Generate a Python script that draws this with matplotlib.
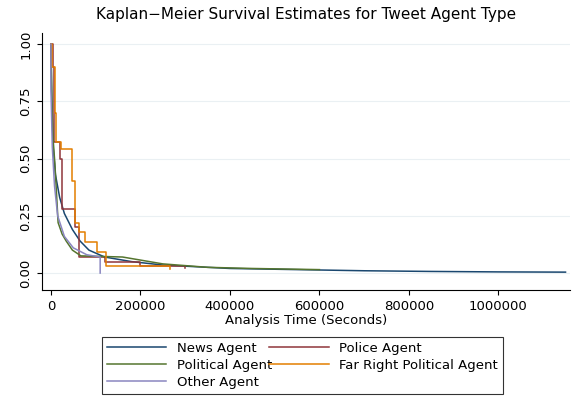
import matplotlib
matplotlib.use("Agg")
import matplotlib.pyplot as plt

news_t = [0, 2000, 5000, 10000, 19500, 30000, 48000, 65000, 85000, 120000, 180000, 250000, 400000, 550000, 700000, 850000, 1000000, 1150000]
news_s = [1.0, 0.75, 0.55, 0.43, 0.33, 0.26, 0.19, 0.14, 0.10, 0.07, 0.05, 0.035, 0.02, 0.015, 0.01, 0.007, 0.005, 0.004]
police_t = [0, 4000, 7000, 21000, 25000, 54000, 63000, 120000, 200000, 300000]
police_s = [1.0, 0.9, 0.57, 0.5, 0.28, 0.2, 0.07, 0.05, 0.03, 0.02]
pol_t = [0, 2000, 5000, 8700, 16000, 25000, 34000, 48000, 67000, 160000, 250000, 350000, 450000, 600000]
pol_s = [1.0, 0.75, 0.58, 0.48, 0.22, 0.17, 0.14, 0.10, 0.075, 0.07, 0.04, 0.025, 0.02, 0.015]
far_t = [0, 3000, 8000, 11000, 23000, 48000, 54000, 62000, 77000, 102000, 124000, 265000]
far_s = [1.0, 0.9, 0.7, 0.57, 0.54, 0.40, 0.22, 0.18, 0.136, 0.093, 0.03, 0.017]
other_t = [0, 1, 3000, 8000, 15000, 30000, 50000, 80000, 110000, 110001]
other_s = [1.0, 0.8, 0.55, 0.38, 0.25, 0.16, 0.11, 0.08, 0.07, 0.0]

# (name, times, survival, colour, drawn as steps?)
series = [
    ("News Agent", news_t, news_s, "#1a476f", False),
    ("Police Agent", police_t, police_s, "#90353b", True),
    ("Political Agent", pol_t, pol_s, "#55752f", False),
    ("Far Right Political Agent", far_t, far_s, "#e37e00", True),
    ("Other Agent", other_t, other_s, "#8a86c0", False),
]

fig = plt.figure(figsize=(5.75, 4.18), dpi=100)
ax = fig.add_axes([42/575, (418-290)/418, (570-42)/575, (290-33)/418])
handles = {}
for name, t, s, c, st in series:
    if st:
        h, = ax.step(t, s, where="post", color=c, lw=1.1, label=name)
    else:
        h, = ax.plot(t, s, color=c, lw=1.1, label=name)
    handles[name] = h
ax.set_xlim(-20000, 1160000)
ax.set_ylim(-0.074, 1.048)
ax.set_xticks([0, 200000, 400000, 600000, 800000, 1000000])
ax.set_xticklabels(["0", "200000", "400000", "600000", "800000", "1000000"])
ax.set_yticks([0, 0.25, 0.5, 0.75, 1.0])
ax.set_yticklabels(["0.00", "0.25", "0.50", "0.75", "1.00"], rotation=90, va="center")
ax.grid(axis="y", color="#eaf0f3", lw=0.8)
ax.set_axisbelow(True)
for sp in ["top", "right"]:
    ax.spines[sp].set_visible(False)
ax.tick_params(labelsize=9.5)
ax.set_xlabel("Analysis Time (Seconds)", fontsize=9.5, labelpad=1)
ax.set_title("Kaplan\u2212Meier Survival Estimates for Tweet Agent Type", fontsize=11, pad=10)
order = ["News Agent", "Political Agent", "Other Agent", "Police Agent", "Far Right Political Agent"]
leg = fig.legend([handles[n] for n in order], order, ncol=2, loc="upper left",
                 bbox_to_anchor=(95/575, 1-330/418, 415/575, 0.0), mode="expand",
                 fontsize=9.5, frameon=True,
                 fancybox=False, edgecolor="black", handlelength=4.5, columnspacing=2.0,
                 labelspacing=0.3, borderpad=0.4)
leg.get_frame().set_linewidth(0.8)
fig.savefig("out.png", dpi=100)
